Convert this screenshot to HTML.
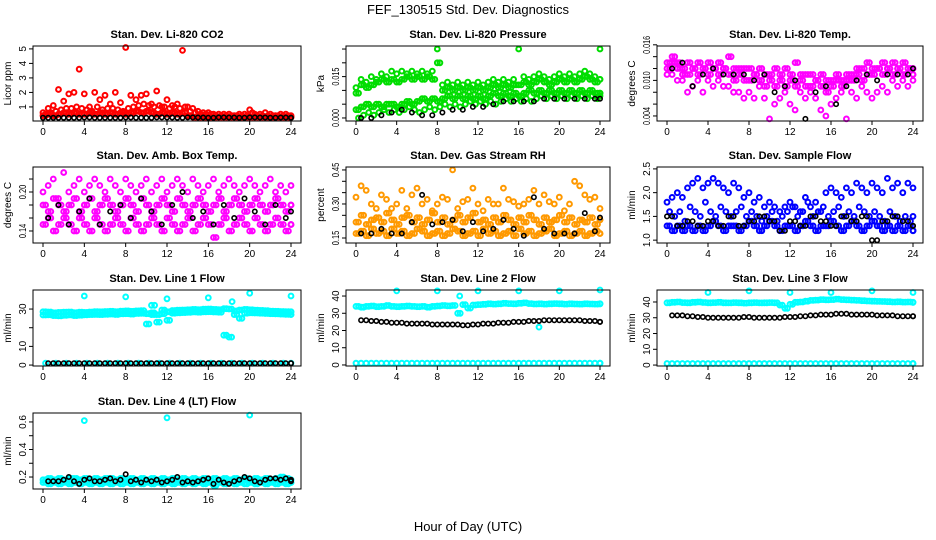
<!DOCTYPE html>
<html><head><meta charset="utf-8"><style>
html,body{margin:0;padding:0;background:#fff;}
svg{display:block;font-family:"Liberation Sans",Arial,sans-serif;}
</style></head><body>
<svg id="chart" width="936" height="540" viewBox="0 0 936 540" xmlns="http://www.w3.org/2000/svg">
<rect width="936" height="540" fill="#fff"/>
<text x="468" y="14" text-anchor="middle" font-size="13">FEF_130515  Std. Dev. Diagnostics</text>
<text x="468" y="531" text-anchor="middle" font-size="13">Hour of Day (UTC)</text>
</svg>
<script>
const hours=[0,0.5,1,1.5,2,2.5,3,3.5,4,4.5,5,5.5,6,6.5,7,7.5,8,8.5,9,9.5,10,10.5,11,11.5,12,12.5,13,13.5,14,14.5,15,15.5,16,16.5,17,17.5,18,18.5,19,19.5,20,20.5,21,21.5,22,22.5,23,23.5,24];
const hourly=[0,1,2,3,4,5,6,7,8,9,10,11,12,13,14,15,16,17,18,19,20,21,22,23,24];
const xTicks=[0,4,8,12,16,20,24];

const co2Hi=[0.6,0.9,1.1,2.2,1.4,1.9,2.0,3.6,1.9,1.0,2.0,1.5,1.8,1.2,2.0,1.3,5.1,1.8,1.5,1.8,1.9,1.2,2.1,1.0,1.5,1.1,1.2,4.9,1.0,0.9,0.7,0.6,0.6,0.5,0.5,0.5,0.5,0.4,0.5,0.5,0.8,0.5,0.5,0.6,0.5,0.4,0.5,0.5,0.4];
const co2Mid=[0.5,0.6,0.7,0.8,0.9,0.9,1.0,0.9,0.8,0.7,1.0,0.8,0.9,0.9,0.8,0.7,0.9,1.0,1.1,1.2,1.1,1.0,1.1,1.0,0.9,1.0,0.9,1.0,0.7,0.6,0.5,0.5,0.5,0.4,0.4,0.4,0.4,0.4,0.4,0.4,0.6,0.4,0.4,0.4,0.4,0.4,0.4,0.4,0.3];
const co2Lo=[0.4,0.5,0.4,0.5,0.6,0.5,0.6,0.5,0.5,0.6,0.5,0.6,0.5,0.6,0.5,0.6,0.5,0.6,0.7,0.6,0.7,0.6,0.5,0.6,0.5,0.6,0.5,0.6,0.4,0.3,0.3,0.3,0.3,0.3,0.3,0.3,0.3,0.3,0.3,0.3,0.3,0.3,0.3,0.3,0.3,0.3,0.3,0.3,0.3];
const co2Black=[0.25,0.25,0.26,0.25,0.27,0.25,0.26,0.25,0.27,0.26,0.25,0.28,0.27,0.26,0.28,0.27,0.26,0.28,0.27,0.26,0.28,0.27,0.26,0.27,0.25];

const presHi=[0.011,0.014,0.013,0.015,0.014,0.016,0.015,0.017,0.016,0.017,0.016,0.017,0.016,0.017,0.016,0.017,0.025,0.012,0.013,0.012,0.013,0.012,0.013,0.012,0.013,0.012,0.013,0.014,0.013,0.014,0.013,0.014,0.025,0.015,0.014,0.015,0.016,0.015,0.014,0.015,0.016,0.015,0.016,0.015,0.016,0.017,0.016,0.015,0.025];
const presMid=[0.009,0.012,0.011,0.012,0.013,0.014,0.013,0.014,0.013,0.014,0.015,0.014,0.015,0.014,0.015,0.014,0.020,0.010,0.011,0.010,0.011,0.010,0.011,0.010,0.011,0.010,0.011,0.012,0.011,0.012,0.011,0.012,0.012,0.013,0.012,0.013,0.014,0.013,0.012,0.013,0.014,0.013,0.014,0.013,0.014,0.015,0.014,0.013,0.014];
const presLo=[0.003,0.004,0.005,0.004,0.005,0.004,0.005,0.005,0.004,0.005,0.006,0.005,0.006,0.007,0.006,0.007,0.006,0.007,0.008,0.007,0.008,0.007,0.008,0.007,0.008,0.007,0.008,0.009,0.008,0.009,0.008,0.009,0.008,0.009,0.010,0.009,0.010,0.009,0.010,0.009,0.010,0.009,0.010,0.009,0.010,0.009,0.010,0.009,0.009];
const presLo2=[0.000,0.001,0.002,0.001,0.002,0.003,0.002,0.003,0.002,0.003,0.004,0.003,0.002,0.003,0.004,0.003,0.004,0.005,0.004,0.005,0.004,0.005,0.006,0.005,0.006,0.005,0.006,0.005,0.006,0.007,0.006,0.007,0.006,0.007,0.006,0.007,0.008,0.007,0.008,0.007,0.008,0.007,0.008,0.007,0.008,0.007,0.008,0.007,0.008];
const presBlack=[0.000,0.000,0.001,0.002,0.003,0.002,0.001,0.001,0.002,0.003,0.003,0.004,0.004,0.005,0.006,0.006,0.006,0.006,0.007,0.007,0.007,0.007,0.007,0.007,0.007];

const tHi=[0.013,0.014,0.013,0.012,0.013,0.012,0.013,0.012,0.013,0.012,0.013,0.012,0.014,0.012,0.012,0.012,0.012,0.011,0.012,0.011,0.011,0.012,0.011,0.012,0.011,0.013,0.011,0.011,0.011,0.010,0.011,0.010,0.010,0.011,0.010,0.011,0.011,0.012,0.012,0.013,0.012,0.012,0.013,0.012,0.013,0.012,0.013,0.012,0.012];
const tMid=[0.012,0.013,0.012,0.011,0.011,0.012,0.011,0.012,0.011,0.012,0.011,0.012,0.011,0.010,0.011,0.010,0.010,0.011,0.010,0.009,0.010,0.009,0.010,0.009,0.010,0.009,0.010,0.009,0.009,0.010,0.009,0.008,0.009,0.010,0.009,0.010,0.010,0.011,0.010,0.011,0.011,0.012,0.011,0.012,0.011,0.012,0.011,0.012,0.011];
const tLo=[0.011,0.011,0.010,0.010,0.008,0.009,0.010,0.008,0.010,0.009,0.010,0.009,0.009,0.008,0.008,0.007,0.008,0.007,0.009,0.007,0.0035,0.006,0.007,0.008,0.006,0.005,0.008,0.007,0.008,0.007,0.005,0.004,0.006,0.007,0.008,0.0035,0.008,0.007,0.009,0.008,0.007,0.008,0.009,0.008,0.010,0.009,0.010,0.009,0.010];
const tBlack=[0.012,0.013,0.009,0.011,0.012,0.011,0.011,0.011,0.010,0.011,0.008,0.009,0.010,0.0035,0.008,0.009,0.006,0.009,0.010,0.011,0.010,0.011,0.011,0.011,0.012];

const aHi=[0.20,0.21,0.22,0.19,0.23,0.20,0.21,0.22,0.20,0.21,0.22,0.21,0.20,0.22,0.21,0.20,0.22,0.21,0.20,0.21,0.22,0.20,0.21,0.22,0.20,0.21,0.22,0.21,0.20,0.22,0.21,0.20,0.21,0.22,0.20,0.21,0.22,0.21,0.20,0.21,0.22,0.21,0.20,0.21,0.22,0.20,0.21,0.20,0.21];
const aMid=[0.18,0.17,0.19,0.18,0.17,0.18,0.19,0.17,0.18,0.19,0.17,0.18,0.19,0.18,0.17,0.18,0.19,0.18,0.17,0.19,0.18,0.17,0.18,0.19,0.18,0.17,0.19,0.18,0.17,0.18,0.19,0.18,0.17,0.18,0.19,0.17,0.18,0.19,0.18,0.17,0.18,0.19,0.18,0.17,0.18,0.19,0.18,0.17,0.18];
const aLo=[0.15,0.16,0.14,0.15,0.16,0.15,0.14,0.16,0.15,0.14,0.16,0.15,0.14,0.15,0.16,0.15,0.14,0.16,0.15,0.14,0.15,0.16,0.15,0.14,0.16,0.15,0.14,0.15,0.16,0.14,0.15,0.16,0.15,0.13,0.15,0.16,0.14,0.15,0.16,0.15,0.14,0.16,0.15,0.14,0.15,0.16,0.15,0.14,0.15];
const aBlack=[0.16,0.18,0.15,0.17,0.19,0.15,0.17,0.18,0.16,0.19,0.17,0.15,0.18,0.20,0.16,0.17,0.15,0.18,0.16,0.19,0.17,0.15,0.18,0.16,0.17];

const rhHi=[0.33,0.38,0.36,0.30,0.28,0.34,0.32,0.28,0.30,0.36,0.28,0.34,0.37,0.30,0.32,0.27,0.30,0.33,0.32,0.45,0.28,0.31,0.32,0.37,0.30,0.27,0.32,0.30,0.30,0.37,0.32,0.31,0.29,0.30,0.32,0.36,0.30,0.34,0.31,0.30,0.33,0.27,0.30,0.40,0.38,0.34,0.32,0.33,0.28];
const rhMid=[0.22,0.25,0.21,0.23,0.24,0.22,0.26,0.23,0.21,0.24,0.25,0.22,0.24,0.21,0.23,0.26,0.22,0.24,0.21,0.23,0.25,0.22,0.24,0.26,0.22,0.23,0.21,0.24,0.22,0.25,0.23,0.21,0.24,0.22,0.25,0.23,0.21,0.24,0.22,0.23,0.25,0.22,0.24,0.21,0.23,0.22,0.24,0.21,0.23];
const rhLo=[0.17,0.18,0.16,0.19,0.17,0.18,0.16,0.19,0.17,0.18,0.16,0.17,0.19,0.18,0.16,0.17,0.18,0.16,0.17,0.19,0.18,0.16,0.17,0.18,0.16,0.19,0.17,0.18,0.16,0.17,0.18,0.16,0.19,0.17,0.18,0.16,0.17,0.18,0.19,0.16,0.17,0.18,0.16,0.17,0.18,0.16,0.17,0.18,0.17];
const rhBlack=[0.17,0.17,0.19,0.17,0.17,0.22,0.34,0.21,0.22,0.23,0.18,0.22,0.18,0.19,0.23,0.19,0.16,0.33,0.19,0.17,0.17,0.17,0.26,0.18,0.24];

const sfHi=[1.8,1.9,2.0,1.9,2.1,2.2,2.3,2.1,2.2,2.3,2.2,2.1,2.0,2.2,2.1,1.9,2.0,1.8,1.9,1.7,1.8,1.7,1.6,1.7,1.8,1.7,1.6,1.9,1.7,1.8,1.6,2.0,2.1,2.0,1.9,2.1,2.0,2.2,2.1,2.0,2.2,2.1,2.0,2.3,2.1,2.2,2.0,2.2,2.1];
const sfMid=[1.6,1.5,1.6,1.4,1.7,1.6,1.5,1.8,1.6,1.5,1.7,1.6,1.5,1.6,1.7,1.5,1.6,1.5,1.4,1.5,1.6,1.4,1.5,1.6,1.7,1.5,1.6,1.8,1.5,1.6,1.7,1.5,1.6,1.7,1.5,1.6,1.5,1.7,1.6,1.5,1.6,1.5,1.4,1.6,1.5,1.4,1.5,1.4,1.5];
const sfLo=[1.3,1.2,1.3,1.2,1.3,1.2,1.3,1.2,1.3,1.4,1.3,1.2,1.3,1.3,1.2,1.3,1.4,1.3,1.2,1.3,1.4,1.3,1.2,1.3,1.3,1.2,1.3,1.4,1.3,1.2,1.3,1.3,1.4,1.3,1.2,1.3,1.4,1.3,1.2,1.3,1.4,1.3,1.2,1.3,1.2,1.3,1.2,1.3,1.2];
const sfBlack=[1.5,1.3,1.4,1.3,1.4,1.3,1.5,1.3,1.4,1.5,1.4,1.2,1.4,1.3,1.5,1.4,1.3,1.5,1.4,1.5,1.0,1.4,1.5,1.4,1.3];

const l1Hi=[28.5,28.4,28.0,28.2,28.3,28.4,28.1,28.3,28.2,28.4,28.6,28.5,28.7,28.8,28.6,28.9,29.0,28.8,29.0,29.1,27.5,28.0,27.0,29.5,28.5,29.2,29.4,29.5,29.6,29.8,29.7,29.9,30.0,29.8,29.7,30.2,30.0,29.0,29.5,29.8,29.6,29.4,29.3,29.1,28.9,28.8,28.7,28.6,28.5];
const l1Lo=[26.8,26.9,26.5,26.4,26.6,26.8,26.5,26.7,26.9,27.0,27.1,27.0,27.2,27.3,27.1,27.4,27.5,27.3,27.6,27.7,22.0,27.0,23.0,27.5,24.0,27.8,28.0,28.1,28.2,28.4,28.3,28.5,28.6,28.4,28.3,16.0,15.0,27.0,25.0,27.8,28.0,27.9,27.8,27.6,27.5,27.4,27.3,27.2,27.1];
const l1OutHours=[4,8,10.5,10.8,12,16,18.3,20,24];
const l1OutVals=[37,36.5,32,32,35.5,36,34,38.5,37];
const l1Zero=[1,1,1,1,1,1,1,1,1,1,1,1,1,1,1,1,1,1,1,1,1,1,1,1,1];
const l1Black=[1,1,1,1,1,1,1,1,1,1,1,1,1,1,1,1,1,1,1,1,1,1,1,1,1,1,1,1,1,1,1,1,1,1,1,1,1,1,1,1,1,1,1,1,1,1,1,1,1];

const l2Cyan=[34,33.5,34,34.2,33.8,34,34.5,34,33.8,34,34.2,34,33.8,34,33.5,34,34.2,34.5,34.3,34.5,30,35,33,34.8,35,35.2,35.5,35.3,35.5,35.8,35.6,35.5,35.8,36,35.6,35.4,35.5,35.3,35.5,35.6,35.5,35.3,35.5,35.4,35.3,35.5,35.4,35.3,35.5];
const l2OutHours=[4,8,10.2,12,16,18,20,24];
const l2OutVals=[43,43,40,43,43,22,43,43.5];
const l2Black=[26,26,25.5,25.5,25,25,24.5,24.5,24.5,24,24,24,24,24,23.5,23.5,23.5,23.5,23.5,23.5,23,23,23.5,23.5,24,24,24,24.5,24.5,24.5,25,25,25,25.5,25.5,25.5,26,26,26,26,26,26,26,26,25.5,25.5,25.5,25,25];
const l2Zero=[1,1,1,1,1,1,1,1,1,1,1,1,1,1,1,1,1,1,1,1,1,1,1,1,1];

const l3Cyan=[39.5,39.8,40,39.6,39.5,39.8,40,39.7,39.5,39.6,39.8,39.5,39.4,39.6,39.5,39.3,39.5,39.6,39.4,39.5,39.6,39.5,38,36,38.5,39.8,40,40.5,41,41.2,41.5,41.3,41.5,41.8,41.5,41.3,41.2,41,40.8,40.6,40.5,40.4,40.3,40.2,40,40.1,39.9,40,39.8];
const l3OutHours=[4,8,12,16,20,24];
const l3OutVals=[46,47,46,46,47,46];
const l3Black=[31.5,31.5,31.5,31,31,30.5,30.5,30,30,30,30,30,30,30,30.5,30.5,30,30,30,30,30,30,30.5,30.5,30.5,31,31,31.5,31.5,32,32,32,32.5,32.5,32.5,32,32,32,32,32,31.5,31.5,31.5,31.5,31,31,31,31,31];
const l3Zero=[1,1,1,1,1,1,1,1,1,1,1,1,1,1,1,1,1,1,1,1,1,1,1,1,1];

const l4Hi=[0.18,0.19,0.18,0.19,0.18,0.19,0.19,0.18,0.19,0.18,0.19,0.18,0.19,0.19,0.18,0.19,0.18,0.19,0.18,0.19,0.18,0.19,0.18,0.19,0.18,0.19,0.18,0.19,0.18,0.19,0.18,0.19,0.18,0.19,0.18,0.19,0.18,0.19,0.18,0.19,0.18,0.19,0.18,0.19,0.18,0.19,0.2,0.19,0.18];
const l4Lo=[0.16,0.15,0.16,0.15,0.16,0.15,0.16,0.15,0.16,0.15,0.16,0.15,0.16,0.15,0.16,0.15,0.16,0.15,0.16,0.15,0.16,0.15,0.16,0.15,0.16,0.15,0.16,0.15,0.16,0.15,0.16,0.15,0.16,0.14,0.16,0.15,0.16,0.15,0.16,0.15,0.16,0.15,0.16,0.15,0.16,0.15,0.16,0.15,0.16];
const l4OutHours=[4,12,20];
const l4OutVals=[0.61,0.63,0.65];
const l4Black=[0.17,0.17,0.17,0.18,0.20,0.17,0.15,0.18,0.19,0.17,0.17,0.18,0.19,0.17,0.18,0.22,0.17,0.18,0.16,0.18,0.17,0.18,0.16,0.17,0.18,0.20,0.16,0.17,0.16,0.17,0.18,0.19,0.15,0.18,0.16,0.15,0.17,0.18,0.20,0.19,0.17,0.16,0.18,0.19,0.19,0.18,0.19,0.18,0.17];

const NS='http://www.w3.org/2000/svg';
const svg=document.getElementById('chart');
const rowsY=[[46,121],[167,243],[290,366],[413,489]];
const colsX=[[43,291],[356,600],[667,913]];
function mk(tag,attrs,parent){const e=document.createElementNS(NS,tag);for(const k in attrs)e.setAttribute(k,attrs[k]);(parent||svg).appendChild(e);return e;}

const panels=[
 {id:'co2',col:0,row:0,title:'Stan. Dev. Li-820 CO2',ylab:'Licor ppm',ymin:0.03,ymax:5.2,ticks:[1,2,3,4,5],labels:['1','2','3','4','5'],
  series:[[hours,co2Lo,'#ff0000',0],[hours,co2Mid,'#ff0000',0.25],[hours,co2Hi,'#ff0000',0],[hours,co2Lo,'#ff0000',0.25],[hourly,co2Black,'#000',0.5],[hourly,co2Black,'#000',0]]},
 {id:'pressure',col:1,row:0,title:'Stan. Dev. Li-820 Pressure',ylab:'kPa',ymin:-0.0011,ymax:0.0261,ticks:[0,0.005,0.01,0.015,0.02,0.025],labels:['0.000','','','0.015','',''],
  series:[[hours,presHi,'#00dd00',0],[hours,presMid,'#00dd00',0.25],[hours,presMid,'#00dd00',0],[hours,presLo,'#00dd00',0],[hours,presLo2,'#00dd00',0.25],[hours,presLo,'#00dd00',0.25],[hourly,presBlack,'#000',0.5]]},
 {id:'temp',col:2,row:0,title:'Stan. Dev. Li-820 Temp.',ylab:'degrees C',ymin:0.00315,ymax:0.0158,ticks:[0.004,0.006,0.008,0.010,0.012,0.014,0.016],labels:['0.004','','','0.010','','','0.016'],
  series:[[hours,tHi,'#ff00ff',0],[hours,tMid,'#ff00ff',0.25],[hours,tLo,'#ff00ff',0],[hours,tMid,'#ff00ff',0],[hours,tHi,'#ff00ff',0.25],[hourly,tBlack,'#000',0.5]]},
 {id:'ambbox',col:0,row:1,title:'Stan. Dev. Amb. Box Temp.',ylab:'degrees C',ymin:0.1215,ymax:0.2385,ticks:[0.14,0.16,0.18,0.20,0.22],labels:['0.14','','','0.20',''],
  series:[[hours,aHi,'#ff00ff',0],[hours,aMid,'#ff00ff',0.25],[hours,aLo,'#ff00ff',0],[hours,aMid,'#ff00ff',0],[hours,aLo,'#ff00ff',0.25],[hourly,aBlack,'#000',0.5]]},
 {id:'rh',col:1,row:1,title:'Stan. Dev. Gas Stream RH',ylab:'percent',ymin:0.128,ymax:0.463,ticks:[0.15,0.20,0.25,0.30,0.35,0.40,0.45],labels:['0.15','','','0.30','','','0.45'],
  series:[[hours,rhHi,'#ff9900',0],[hours,rhMid,'#ff9900',0.25],[hours,rhLo,'#ff9900',0],[hours,rhMid,'#ff9900',0],[hours,rhLo,'#ff9900',0.25],[hourly,rhBlack,'#000',0.5]]},
 {id:'sampleflow',col:2,row:1,title:'Stan. Dev. Sample Flow',ylab:'ml/min',ymin:0.94,ymax:2.54,ticks:[1.0,1.5,2.0,2.5],labels:['1.0','1.5','2.0','2.5'],
  series:[[hours,sfHi,'#0000ff',0],[hours,sfMid,'#0000ff',0.25],[hours,sfLo,'#0000ff',0],[hours,sfLo,'#0000ff',0.25],[hourly,sfBlack,'#000',0.5],[hourly,sfBlack,'#000',0]]},
 {id:'line1',col:0,row:2,title:'Stan. Dev. Line 1 Flow',ylab:'ml/min',ymin:-0.5,ymax:40.2,ticks:[0,10,20,30],labels:['0','10','','30'],
  series:[[hours,l1Hi,'#00ffff',0],[hours,l1Lo,'#00ffff',0.25],[hours,l1Hi,'#00ffff',0.25],[hours,l1Lo,'#00ffff',0],[l1OutHours,l1OutVals,'#00ffff',0],[hourly,l1Zero,'#00ffff',0.25],[hours,l1Black,'#000',0.5]]},
 {id:'line2',col:1,row:2,title:'Stan. Dev. Line 2 Flow',ylab:'ml/min',ymin:-0.6,ymax:43.5,ticks:[0,10,20,30,40],labels:['0','10','20','30','40'],
  series:[[hours,l2Cyan,'#00ffff',0],[hours,l2Cyan,'#00ffff',0.25],[l2OutHours,l2OutVals,'#00ffff',0],[hourly,l2Zero,'#00ffff',0],[hourly,l2Zero,'#00ffff',0.5],[hours,l2Black,'#000',0.5]]},
 {id:'line3',col:2,row:2,title:'Stan. Dev. Line 3 Flow',ylab:'ml/min',ymin:-0.6,ymax:47.6,ticks:[0,10,20,30,40],labels:['0','10','20','30','40'],
  series:[[hours,l3Cyan,'#00ffff',0],[hours,l3Cyan,'#00ffff',0.25],[l3OutHours,l3OutVals,'#00ffff',0],[hourly,l3Zero,'#00ffff',0],[hourly,l3Zero,'#00ffff',0.5],[hours,l3Black,'#000',0.5]]},
 {id:'line4',col:0,row:3,title:'Stan. Dev. Line 4 (LT) Flow',ylab:'ml/min',ymin:0.113,ymax:0.665,ticks:[0.2,0.3,0.4,0.5,0.6],labels:['0.2','','0.4','','0.6'],
  series:[[hours,l4Hi,'#00ffff',0],[hours,l4Lo,'#00ffff',0.25],[hours,l4Hi,'#00ffff',0.25],[hours,l4Lo,'#00ffff',0],[l4OutHours,l4OutVals,'#00ffff',0],[hours,l4Black,'#000',0.5]]}
];

panels.forEach(p=>{
  const [x0,x24]=colsX[p.col];const [top,bot]=rowsY[p.row];
  const left=x0-10,right=x24+10;
  const xs=h=>x0+(h/24)*(x24-x0);
  const ys=v=>bot-(v-p.ymin)/(p.ymax-p.ymin)*(bot-top);
  const g=mk('g',{});
  
  
  const t=mk('text',{x:(left+right)/2,y:top-8,'text-anchor':'middle','font-size':'11','font-weight':'bold'},g);
  t.textContent=p.title;
  
  
  const marks=mk('g',{fill:'none'},g);
  
  
  p.series.forEach(s=>{
    const [hx,vals,color,off]=s;
    vals.forEach((v,i)=>{
      const h=Math.min(24,hx[i]+off);
      const c=mk('circle',{cx:xs(h).toFixed(1),cy:ys(v).toFixed(1),r:color==='#000'?2.2:2.4,stroke:color,'stroke-width':color==='#000'?1.6:2.0},marks);
      
      
    });
  });
  const box=mk('rect',{x:left,y:top,width:right-left,height:bot-top,fill:'none',stroke:'#000','stroke-width':1},g);
  
  
  const xa=mk('g',{},g);
  
  
  mk('line',{x1:xs(0),x2:xs(24),y1:bot,y2:bot,stroke:'#000'},xa);
  xTicks.forEach(v=>{
    mk('line',{x1:xs(v),x2:xs(v),y1:bot,y2:bot+4,stroke:'#000'},xa);
    const l=mk('text',{x:xs(v),y:bot+14,'text-anchor':'middle','font-size':'10'},xa);
    l.textContent=v;
  });
  const ya=mk('g',{},g);
  
  
  mk('line',{x1:left,x2:left,y1:ys(p.ticks[0]),y2:ys(p.ticks[p.ticks.length-1]),stroke:'#000'},ya);
  p.ticks.forEach((v,i)=>{
    const y=ys(v);
    mk('line',{x1:left-4,x2:left,y1:y,y2:y,stroke:'#000'},ya);
    const lab=p.labels[i];
    if(lab){
      const attrs={x:left-7,y:y,'text-anchor':'middle','font-size':'10',transform:`rotate(-90 ${left-7} ${y})`};
      if(lab.length>=4){attrs.textLength=(lab.length*3.6).toFixed(1);attrs.lengthAdjust='spacingAndGlyphs';}
      const l=mk('text',attrs,ya);
      l.textContent=lab;
    }
  });
  const yl=mk('text',{x:left-22,y:(top+bot)/2,'text-anchor':'middle','font-size':'10',transform:`rotate(-90 ${left-22} ${(top+bot)/2})`},ya);
  yl.textContent=p.ylab;
  
  
});
</script>
</body></html>
